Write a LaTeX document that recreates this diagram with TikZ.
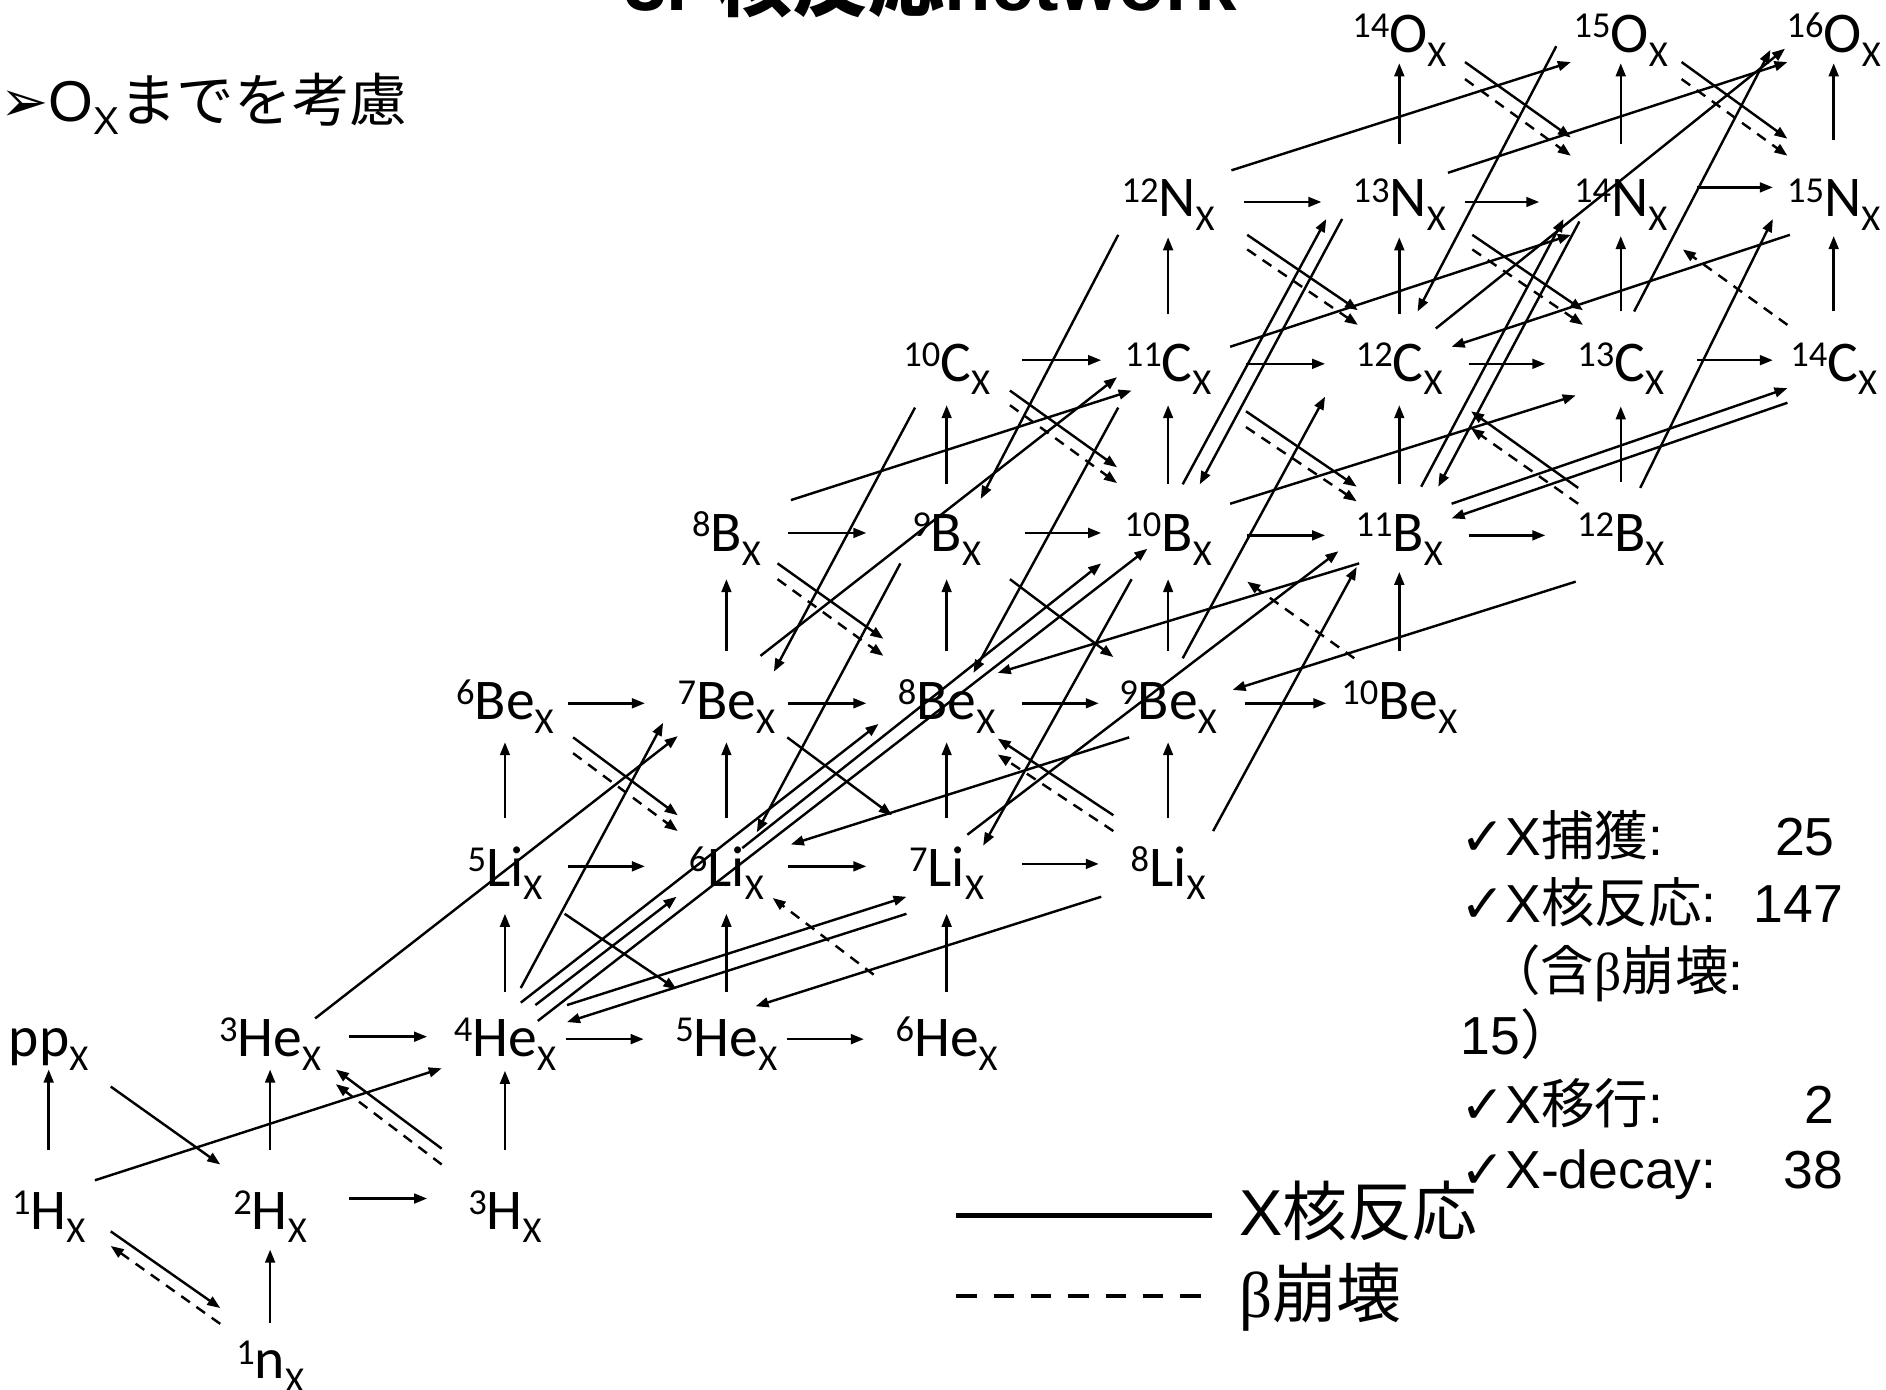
\documentclass[tikz,border=0pt]{standalone}
\usepackage{fontspec}
\setmainfont{Carlito}
\newfontfamily\ars{Liberation Sans}
\newfontfamily\lsr{Liberation Serif}
\newfontfamily\jp{Noto Sans CJK JP}
\newfontfamily\dvs{DejaVu Sans}
\usetikzlibrary{arrows.meta,calc}
\newcommand\smx[1]{{\fontsize{22.5}{22.5}\selectfont #1}}
\newcommand\nucl[2]{\raisebox{-7.5pt}{\raisebox{9pt}{\smx{#1}}#2\raisebox{-8.5pt}{\smx{X}}}}
\newcommand\cn[5][arr]{\draw[#1] ($(#2.mid)+(#3)$) -- ($(#4.mid)+(#5)$);}
\begin{document}
\begin{tikzpicture}[x=0.75pt,y=-0.75pt,
  nuc/.style={inner sep=0pt,anchor=mid,font=\fontsize{35.5}{38}\selectfont},
  arr/.style={line width=1.5pt,-{Triangle[length=8pt,width=6pt]}},
  dsh/.style={arr,dash pattern=on 6.5pt off 5pt},
  txt/.style={inner sep=0pt,font=\fontsize{33}{36}\selectfont\ars}]
\fill[white] (0,0) rectangle (1550,1142);
\useasboundingbox (0,0) rectangle (1550,1142);
% title (cut at top) and subtitle
\node[anchor=base,inner sep=0pt,font=\fontsize{47}{50}\selectfont\bfseries] (title) at (765,9) {{\ars 3. }{\jp 核反応}{\ars network}};
\node[txt,anchor=base west,font=\fontsize{35.5}{38}\selectfont\ars] (sub) at (0,100) {{\dvs ➢}O\raisebox{-8pt}{\fontsize{24}{24}\selectfont X}{\jp までを考慮}};
% nuclides
\node[nuc] (nn1) at (222,1120) {\nucl{1}{n}};
\node[nuc] (H1) at (40,997) {\nucl{1}{H}};
\node[nuc] (H2) at (222,997) {\nucl{2}{H}};
\node[nuc] (H3) at (415,997) {\nucl{3}{H}};
\node[nuc] (pp) at (40,855) {\raisebox{-7.5pt}{pp\raisebox{-8.5pt}{\smx{X}}}};
\node[nuc] (He3) at (222,855) {\nucl{3}{He}};
\node[nuc] (He4) at (415,855) {\nucl{4}{He}};
\node[nuc] (He5) at (597,855) {\nucl{5}{He}};
\node[nuc] (He6) at (778,855) {\nucl{6}{He}};
\node[nuc] (Li5) at (415,715) {\nucl{5}{Li}};
\node[nuc] (Li6) at (597,715) {\nucl{6}{Li}};
\node[nuc] (Li7) at (778,715) {\nucl{7}{Li}};
\node[nuc] (Li8) at (960,715) {\nucl{8}{Li}};
\node[nuc] (Be6) at (415,578) {\nucl{6}{Be}};
\node[nuc] (Be7) at (597,578) {\nucl{7}{Be}};
\node[nuc] (Be8) at (778,578) {\nucl{8}{Be}};
\node[nuc] (Be9) at (960,578) {\nucl{9}{Be}};
\node[nuc] (Be10) at (1150,578) {\nucl{10}{Be}};
\node[nuc] (B8) at (597,440) {\nucl{8}{B}};
\node[nuc] (B9) at (778,440) {\nucl{9}{B}};
\node[nuc] (B10) at (960,440) {\nucl{10}{B}};
\node[nuc] (B11) at (1150,440) {\nucl{11}{B}};
\node[nuc] (B12) at (1332,440) {\nucl{12}{B}};
\node[nuc] (C10) at (778,300) {\nucl{10}{C}};
\node[nuc] (C11) at (960,300) {\nucl{11}{C}};
\node[nuc] (C12) at (1150,300) {\nucl{12}{C}};
\node[nuc] (C13) at (1332,300) {\nucl{13}{C}};
\node[nuc] (C14) at (1507,300) {\nucl{14}{C}};
\node[nuc] (N12) at (960,165) {\nucl{12}{N}};
\node[nuc] (N13) at (1150,165) {\nucl{13}{N}};
\node[nuc] (N14) at (1332,165) {\nucl{14}{N}};
\node[nuc] (N15) at (1507,165) {\nucl{15}{N}};
\node[nuc] (O14) at (1150,30) {\nucl{14}{O}};
\node[nuc] (O15) at (1332,30) {\nucl{15}{O}};
\node[nuc] (O16) at (1507,30) {\nucl{16}{O}};
% vertical arrows
\cn{H1}{0,-52}{pp}{0,24}
\cn{nn1}{0,-33}{H2}{0,30}
\cn{H2}{0,-52}{He3}{0,24}
\cn{H3}{0,-52}{He4}{0,25}
\cn{He4}{0,-40}{Li5}{0,36}
\cn{Li5}{0,-43}{Be6}{0,32}
\cn{He5}{0,-40}{Li6}{0,36}
\cn{Li6}{0,-43}{Be7}{0,32}
\cn{Be7}{0,-43}{B8}{0,36}
\cn{He6}{0,-40}{Li7}{0,36}
\cn{Li7}{0,-43}{Be8}{0,32}
\cn{Be8}{0,-43}{B9}{0,36}
\cn{B9}{0,-42}{C10}{0,33}
\cn{Li8}{0,-43}{Be9}{0,32}
\cn{Be9}{0,-43}{B10}{0,36}
\cn{B10}{0,-42}{C11}{0,33}
\cn{C11}{0,-42}{N12}{0,30}
\cn{Be10}{0,-43}{B11}{0,30}
\cn{B11}{0,-42}{C12}{0,33}
\cn{C12}{0,-42}{N13}{0,30}
\cn{N13}{0,-47}{O14}{0,22}
\cn{B12}{0,-44}{C13}{0,34}
\cn{C13}{0,-44}{N14}{0,29}
\cn{N14}{0,-47}{O15}{0,22}
\cn{C14}{0,-44}{N15}{0,29}
\cn{N15}{0,-50}{O16}{0,22}
% horizontal arrows
\cn{H2}{65,-12}{H3}{-64,-12}
\cn{He3}{65,-3}{He4}{-64,-3}
\cn{He4}{50,-1}{He5}{-68,-1}
\cn{He5}{50,-1}{He6}{-68,-1}
\cn{Li5}{52,-3}{Li6}{-67,-3}
\cn{Li6}{51,-3}{Li7}{-66,-3}
\cn{Li7}{62,-5}{Li8}{-57,-5}
\cn{Be6}{52,0}{Be7}{-67,0}
\cn{Be7}{51,0}{Be8}{-66,0}
\cn{Be8}{62,0}{Be9}{-57,0}
\cn{Be9}{63,0}{Be10}{-60,0}
\cn{B8}{51,-2}{B9}{-66,-2}
\cn{B9}{64,-2}{B10}{-55,-2}
\cn{B10}{65,0}{B11}{-61,0}
\cn{B11}{57,0}{B12}{-62,0}
\cn{C10}{62,-4}{C11}{-55,-4}
\cn{C11}{64,-1}{C12}{-61,-1}
\cn{C12}{57,-1}{C13}{-62,-1}
\cn{C13}{63,-4}{C14}{-50,-4}
\cn{N12}{62,1}{N13}{-64,1}
\cn{N13}{54,1}{N14}{-67,1}
\cn{N14}{63,-11}{N15}{-50,-11}
% diagonal reactions
\cn{pp}{51,38}{H2}{-41,-40}
\cn{H1}{38,-27}{He4}{-52,23}
\cn{H1}{51,15}{nn1}{-41,-45}
\cn[dsh]{nn1}{-41,-32}{H1}{51,27}
\cn{H3}{-52,-53}{He3}{54,24}
\cn[dsh]{H3}{-52,-40}{He3}{54,36}
\cn{He3}{37,-18}{Be7}{-40,27}
\cn{He4}{13,-43}{Be7}{-52,16}
\cn{He4}{13,-31}{Be8}{-56,17}
\cn{He4}{25,-29}{Li6}{-41,22}
\cn{He4}{27,-16}{B10}{-17,11}
\cn{He4}{51,-29}{Li7}{-33,22}
\cn{Li7}{-33,36}{He4}{51,-15}
\cn{Li5}{49,36}{He5}{-41,-42}
\cn{Be6}{56,28}{Li6}{-40,-45}
\cn[dsh]{Be6}{56,41}{Li6}{-40,-32}
\cn[dsh]{He6}{-60,-54}{Li6}{38,23}
\cn{Li8}{-55,22}{He5}{24,-28}
\cn{Be7}{50,28}{Li7}{-45,-45}
\cn{Be9}{-32,28}{Li6}{53,-21}
\cn{B9}{-38,23}{Li6}{25,-31}
\cn{C10}{-26,35}{Be7}{39,-26}
\cn{Be7}{28,-39}{C11}{-42,10}
\cn{B8}{53,-29}{C11}{-30,21}
\cn{B8}{42,23}{Be8}{-52,-53}
\cn[dsh]{B8}{42,36}{Be8}{-52,-39}
\cn{B9}{52,36}{Be9}{-45,-38}
\cn{C10}{52,21}{B10}{-42,-56}
\cn[dsh]{C10}{52,33}{B10}{-42,-43}
\cn{C11}{-41,35}{Be8}{22,-25}
\cn{N12}{-41,28}{B9}{28,-30}
\cn{B10}{-30,36}{Li7}{30,-20}
\cn{Li8}{-45,-45}{Be8}{42,29}
\cn[dsh]{Li8}{-45,-32}{Be8}{42,42}
\cn{Li8}{37,-32}{B11}{-35,26}
\cn{Li7}{17,-29}{B11}{-50,13}
\cn{B11}{-33,23}{Be8}{42,-25}
\cn{B12}{-37,38}{Be9}{53,-11}
\cn[dsh]{Be10}{-37,-37}{B10}{65,38}
\cn{Be9}{12,-37}{C12}{-61,26}
\cn{B10}{12,-42}{N13}{-60,15}
\cn{N13}{-47,15}{B10}{26,-42}
\cn{B11}{18,-40}{N14}{-47,15}
\cn{N14}{-34,17}{B11}{32,-40}
\cn{C13}{11,-44}{O16}{-52,11}
\cn{B12}{16,-39}{N15}{-50,15}
\cn{C12}{30,-30}{O16}{-40,10}
\cn{N12}{52,-25}{O15}{-41,21}
\cn{N13}{40,-23}{O16}{-38,21}
\cn{O15}{-53,8}{C12}{15,-44}
\cn{O14}{54,21}{N14}{-41,-52}
\cn[dsh]{O14}{54,35}{N14}{-41,-37}
\cn{O15}{50,21}{N15}{-38,-51}
\cn[dsh]{O15}{50,35}{N15}{-38,-37}
\cn{N12}{65,28}{C12}{-34,-45}
\cn[dsh]{N12}{65,40}{C12}{-34,-33}
\cn{N13}{60,28}{C13}{-31,-45}
\cn[dsh]{N13}{60,40}{C13}{-31,-33}
\cn{C11}{64,38}{B11}{-35,-40}
\cn[dsh]{C11}{64,51}{B11}{-35,-28}
\cn{B12}{-35,-39}{C12}{59,38}
\cn[dsh]{B12}{-35,-26}{C12}{59,52}
\cn[dsh]{C14}{-38,-33}{N14}{51,40}
\cn{C11}{51,-15}{N14}{-41,28}
\cn{N15}{-36,28}{C12}{43,-15}
\cn{B10}{51,-26}{C13}{-37,25}
\cn{B11}{43,-26}{C14}{-38,19}
\cn{C14}{-38,31}{B11}{43,-14}
\cn{Li6}{13,-18}{B10}{-55,23}
% counts
\node[txt,anchor=base west] (t1) at (1200,703) {{\dvs ✓}X{\jp 捕獲}:};
\node[txt,anchor=base east] (n1) at (1508,703) {25};
\node[txt,anchor=base west] (t2) at (1200,758) {{\dvs ✓}X{\jp 核反応}:};
\node[txt,anchor=base east] (n2) at (1515,758) {147};
\node[txt,anchor=base west] (t3) at (1222,814) {{\jp （含}{\lsr β}{\jp 崩壊}:};
\node[txt,anchor=base west] (t4) at (1200,867) {15{\jp ）}};
\node[txt,anchor=base west] (t5) at (1200,923) {{\dvs ✓}X{\jp 移行}:};
\node[txt,anchor=base east] (n5) at (1508,923) {2};
\node[txt,anchor=base west] (t6) at (1200,977) {{\dvs ✓}X-decay:};
\node[txt,anchor=base east] (n6) at (1515,977) {38};
% legend
\coordinate (la) at (786,999);
\coordinate (lb) at (996,999);
\coordinate (lc) at (786,1065);
\coordinate (ld) at (996,1065);
\draw[line width=2.6pt] (la) -- (lb);
\draw[line width=2.6pt,dash pattern=on 12.5pt off 10.5pt] (lc) -- (ld);
\node[anchor=base west,inner sep=0pt,font=\fontsize{40}{44}\selectfont\ars] (lg1) at (1018,1015) {X{\jp 核反応}};
\node[anchor=base west,inner sep=0pt,font=\fontsize{40}{44}\selectfont] (lg2) at (1018,1083) {{\lsr β}{\jp 崩壊}};
\end{tikzpicture}
\end{document}
